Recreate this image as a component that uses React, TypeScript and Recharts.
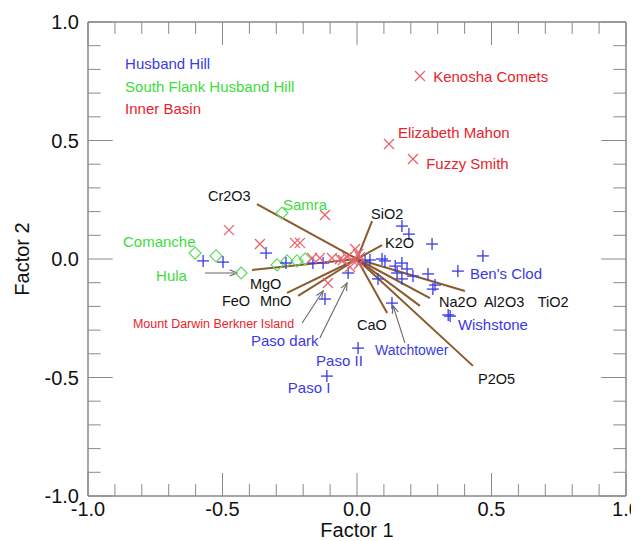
import { ScatterChart, Scatter, XAxis, YAxis, ReferenceLine } from 'recharts'

// factor scores
const husbandHill = [
  { x: -0.572, y: -0.008 }, { x: -0.498, y: -0.013 }, { x: -0.338, y: 0.025 },
  { x: -0.264, y: -0.017 }, { x: -0.164, y: -0.017 }, { x: -0.126, y: -0.017 },
  { x: -0.033, y: -0.059 }, { x: -0.119, y: -0.169 }, { x: 0.004, y: -0.376 },
  { x: -0.112, y: -0.494 }, { x: 0.13, y: -0.186 }, { x: 0.346, y: -0.241 },
  { x: 0.339, y: -0.236 }, { x: 0.167, y: 0.139 }, { x: 0.193, y: 0.105 },
  { x: 0.279, y: 0.063 }, { x: 0.468, y: 0.013 }, { x: 0.375, y: -0.051 },
  { x: 0.03, y: -0.008 }, { x: 0.048, y: -0.004 }, { x: 0.093, y: 0.0 },
  { x: 0.104, y: -0.008 }, { x: 0.167, y: -0.017 }, { x: 0.186, y: -0.042 },
  { x: 0.149, y: -0.059 }, { x: 0.208, y: -0.072 }, { x: 0.264, y: -0.063 },
  { x: 0.167, y: -0.084 }, { x: 0.078, y: -0.084 }, { x: 0.282, y: -0.127 },
  { x: 0.29, y: -0.11 }, { x: 0.142, y: -0.03 },
]
const southFlank = [
  { x: -0.279, y: 0.194 }, { x: -0.602, y: 0.025 }, { x: -0.524, y: 0.013 },
  { x: -0.431, y: -0.059 }, { x: -0.297, y: -0.025 }, { x: -0.26, y: -0.008 },
  { x: -0.223, y: -0.008 }, { x: -0.193, y: 0.0 },
]
const innerBasin = [
  { x: 0.234, y: 0.772 }, { x: 0.119, y: 0.485 }, { x: 0.208, y: 0.422 },
  { x: -0.476, y: 0.122 }, { x: -0.119, y: 0.186 }, { x: -0.361, y: 0.063 },
  { x: -0.231, y: 0.068 }, { x: -0.212, y: 0.068 }, { x: -0.167, y: 0.004 },
  { x: -0.138, y: 0.004 }, { x: -0.093, y: 0.004 }, { x: -0.108, y: -0.101 },
  { x: -0.007, y: 0.042 }, { x: 0.004, y: 0.021 }, { x: -0.015, y: -0.008 },
  { x: 0.007, y: -0.021 }, { x: -0.037, y: 0.008 }, { x: 0.011, y: 0.008 },
  { x: -0.026, y: -0.034 }, { x: -0.052, y: -0.004 }, { x: -0.063, y: 0.0 },
]

// oxide loadings (vectors from the origin)
const loadings = [
  { name: 'Cr2O3', x: -0.372, y: 0.232 },
  { name: 'SiO2', x: 0.056, y: 0.16 },
  { name: 'K2O', x: 0.093, y: 0.059 },
  { name: 'FeO', x: -0.39, y: -0.046 },
  { name: 'MgO', x: -0.26, y: -0.143 },
  { name: 'MnO', x: -0.219, y: -0.156 },
  { name: 'CaO', x: 0.112, y: -0.228 },
  { name: 'Na2O', x: 0.234, y: -0.198 },
  { name: 'Al2O3', x: 0.271, y: -0.165 },
  { name: 'TiO2', x: 0.401, y: -0.135 },
  { name: 'P2O5', x: 0.431, y: -0.451 },
]

// text labels, placed at data coordinates (left edge, middle)
const blueLabels = [
  { text: 'Husband Hill', x: -0.862, y: 0.827 },
  { text: "Ben's Clod", x: 0.42, y: -0.063 },
  { text: 'Wishstone', x: 0.375, y: -0.278 },
  { text: 'Paso dark', x: -0.394, y: -0.342 },
  { text: 'Paso II', x: -0.152, y: -0.43 },
  { text: 'Paso I', x: -0.257, y: -0.544 },
]
const watchtowerLabel = [{ text: 'Watchtower', x: 0.067, y: -0.384 }]
const greenLabels = [
  { text: 'South Flank Husband Hill', x: -0.862, y: 0.726 },
  { text: 'Samra', x: -0.275, y: 0.232 },
  { text: 'Comanche', x: -0.87, y: 0.072 },
  { text: 'Hula', x: -0.747, y: -0.068 },
]
const redLabels = [
  { text: 'Inner Basin', x: -0.862, y: 0.633 },
  { text: 'Kenosha Comets', x: 0.283, y: 0.772 },
  { text: 'Elizabeth Mahon', x: 0.152, y: 0.532 },
  { text: 'Fuzzy Smith', x: 0.257, y: 0.401 },
]
const smallRedLabels = [{ text: 'Mount Darwin Berkner Island', x: -0.833, y: -0.274 }]
const blackLabels = [
  { text: 'Cr2O3', x: -0.554, y: 0.266 },
  { text: 'SiO2', x: 0.052, y: 0.19 },
  { text: 'K2O', x: 0.104, y: 0.068 },
  { text: 'MgO', x: -0.398, y: -0.105 },
  { text: 'FeO', x: -0.502, y: -0.177 },
  { text: 'MnO', x: -0.361, y: -0.177 },
  { text: 'CaO', x: 0.0, y: -0.278 },
  { text: 'Na2O', x: 0.305, y: -0.181 },
  { text: 'Al2O3', x: 0.472, y: -0.181 },
  { text: 'TiO2', x: 0.672, y: -0.181 },
  { text: 'P2O5', x: 0.45, y: -0.506 },
]

// gray pointer arrows [from, to]
const arrows = [
  [{ x: -0.565, y: -0.059 }, { x: -0.446, y: -0.059 }],
  [{ x: -0.204, y: -0.27 }, { x: -0.126, y: -0.135 }],
  [{ x: -0.138, y: -0.333 }, { x: -0.037, y: -0.101 }],
  [{ x: 0.178, y: -0.354 }, { x: 0.134, y: -0.198 }],
]

const TICKS = [-1, -0.5, 0, 0.5, 1]
const FONT = '"Liberation Sans", Arial, Helvetica, sans-serif'
const FRAME = '#8a8a8a'
const BLUE = '#3a3ae6'
const GREEN = '#3ddc3d'
const RED = '#e8232b'
const BROWN = '#8b5a2b'

const W = 631
const H = 533

// inner tick marks in data units (major ~24px, minor ~12px)
const minorSteps = Array.from({ length: 21 }, (_, i) => (i - 10) / 10)
const isMajor = (v: number) => Math.abs(v * 2 - Math.round(v * 2)) < 1e-6
const tickLenX = (v: number) => (isMajor(v) ? 0.092 : 0.047)
const tickLenY = (v: number) => (isMajor(v) ? 0.097 : 0.05)

const Plus = ({ cx, cy }: any) => (
  <g stroke={BLUE} strokeWidth={1.3}>
    <line x1={cx - 6} y1={cy} x2={cx + 6} y2={cy} />
    <line x1={cx} y1={cy - 6} x2={cx} y2={cy + 6} />
  </g>
)
const Cross = ({ cx, cy }: any) => (
  <g stroke='#ea6470' strokeWidth={1.3}>
    <line x1={cx - 5} y1={cy - 5} x2={cx + 5} y2={cy + 5} />
    <line x1={cx - 5} y1={cy + 5} x2={cx + 5} y2={cy - 5} />
  </g>
)
const Diamond = ({ cx, cy }: any) => (
  <polygon
    points={`${cx},${cy - 6} ${cx + 6},${cy} ${cx},${cy + 6} ${cx - 6},${cy}`}
    fill='none'
    stroke='#5fd85f'
    strokeWidth={1.2}
  />
)

const labelShape = (color: string, size: number) => (p: any) => (
  <text x={p.cx} y={p.cy} fill={color} fontSize={size} fontFamily={FONT} dominantBaseline='central'>
    {p.payload.text}
  </text>
)

const Arrow = (p: any) => {
  const { x1, y1, x2, y2 } = p
  const a = Math.atan2(y2 - y1, x2 - x1)
  const h = 8
  const s = 0.4
  return (
    <g stroke='#666' strokeWidth={1.1} fill='none'>
      <line x1={x1} y1={y1} x2={x2} y2={y2} />
      <polyline
        points={`${x2 - h * Math.cos(a - s)},${y2 - h * Math.sin(a - s)} ${x2},${y2} ${x2 - h * Math.cos(a + s)},${y2 - h * Math.sin(a + s)}`}
      />
    </g>
  )
}

const XTitle = ({ viewBox }: any) => (
  <text x={viewBox.x + viewBox.width / 2} y={viewBox.y + 41} textAnchor='middle' fontSize={20} fontFamily={FONT} fill='#111'>
    Factor 1
  </text>
)
const YTitle = ({ viewBox }: any) => {
  const x = viewBox.x + 14
  const y = viewBox.y + viewBox.height / 2
  return (
    <text x={x} y={y} transform={`rotate(-90 ${x} ${y})`} textAnchor='middle' dominantBaseline='central' fontSize={20} fontFamily={FONT} fill='#111'>
      Factor 2
    </text>
  )
}

export default function App() {
  return (
    <ScatterChart width={W} height={H} margin={{ top: 14, right: 13, bottom: 0, left: 0 }} style={{ overflow: 'visible' }}>
      <XAxis
        type='number'
        dataKey='x'
        domain={[-1, 1]}
        ticks={TICKS}
        allowDataOverflow
        height={45}
        tickSize={0}
        tickMargin={6}
        tickFormatter={(v: number) => v.toFixed(1)}
        tick={{ fontSize: 20, fontFamily: FONT, fill: '#111' }}
        axisLine={false}
        label={{ content: XTitle }}
      />
      <YAxis
        type='number'
        dataKey='y'
        domain={[-1, 1]}
        ticks={TICKS}
        allowDataOverflow
        width={80}
        tickSize={0}
        tickMargin={9}
        tickFormatter={(v: number) => v.toFixed(1)}
        tick={{ fontSize: 20, fontFamily: FONT, fill: '#111' }}
        axisLine={false}
        label={{ content: YTitle }}
      />

      {/* frame */}
      <ReferenceLine x={-1} stroke={FRAME} strokeWidth={1.5} />
      <ReferenceLine x={1} stroke={FRAME} strokeWidth={1.5} />
      <ReferenceLine y={-1} stroke={FRAME} strokeWidth={1.5} />
      <ReferenceLine y={1} stroke={FRAME} strokeWidth={1.5} />
      {minorSteps.map((v) => (
        <ReferenceLine key={`b${v}`} segment={[{ x: v, y: -1 }, { x: v, y: -1 + tickLenY(v) }]} stroke={FRAME} />
      ))}
      {minorSteps.map((v) => (
        <ReferenceLine key={`t${v}`} segment={[{ x: v, y: 1 }, { x: v, y: 1 - tickLenY(v) }]} stroke={FRAME} />
      ))}
      {minorSteps.map((v) => (
        <ReferenceLine key={`l${v}`} segment={[{ x: -1, y: v }, { x: -1 + tickLenX(v), y: v }]} stroke={FRAME} />
      ))}
      {minorSteps.map((v) => (
        <ReferenceLine key={`r${v}`} segment={[{ x: 1, y: v }, { x: 1 - tickLenX(v), y: v }]} stroke={FRAME} />
      ))}

      <Scatter data={southFlank} shape={Diamond} isAnimationActive={false} />
      <Scatter data={husbandHill} shape={Plus} isAnimationActive={false} />
      <Scatter data={innerBasin} shape={Cross} isAnimationActive={false} />

      {loadings.map((l) => (
        <ReferenceLine key={l.name} segment={[{ x: 0, y: 0 }, { x: l.x, y: l.y }]} stroke={BROWN} strokeWidth={2} />
      ))}
      {arrows.map((a, i) => (
        <ReferenceLine key={`a${i}`} segment={a} shape={Arrow} />
      ))}

      <Scatter data={blueLabels} shape={labelShape(BLUE, 15)} isAnimationActive={false} />
      <Scatter data={watchtowerLabel} shape={labelShape(BLUE, 14)} isAnimationActive={false} />
      <Scatter data={greenLabels} shape={labelShape(GREEN, 15)} isAnimationActive={false} />
      <Scatter data={redLabels} shape={labelShape(RED, 15)} isAnimationActive={false} />
      <Scatter data={smallRedLabels} shape={labelShape(RED, 12.5)} isAnimationActive={false} />
      <Scatter data={blackLabels} shape={labelShape('#111', 14.5)} isAnimationActive={false} />
    </ScatterChart>
  )
}
